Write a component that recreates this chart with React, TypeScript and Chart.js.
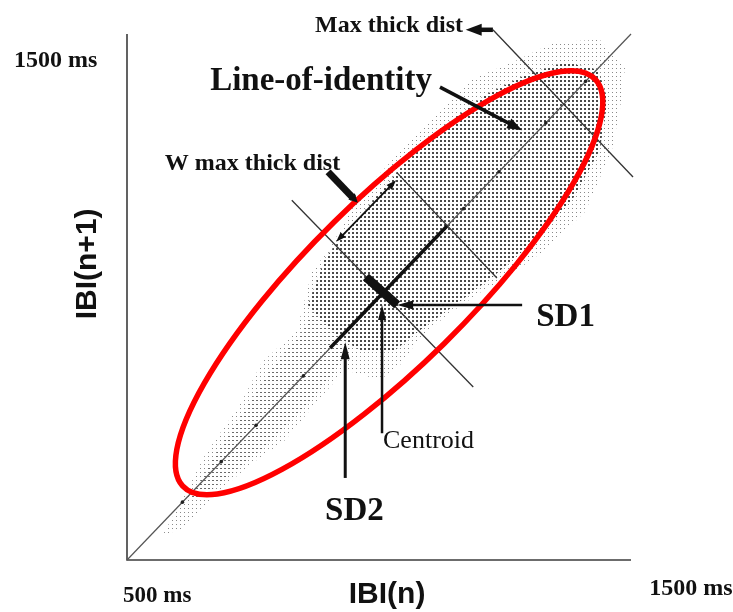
import { useEffect, useRef } from 'react';
import { Chart, registerables } from 'chart.js';

Chart.register(...registerables);

// Axis range, IBI in ms
const AXIS_MIN = 500;
const AXIS_MAX = 1500;

// Tick / axis texts
const yTopTick = '1500 ms';
const xLeftTick = '500 ms';
const xRightTick = '1500 ms';
const xTitle = 'IBI(n)';
const yTitle = 'IBI(n+1)';

// Outline of the whole scatter cloud (IBI(n), IBI(n+1)) in ms
const cloudOuter: [number, number][] = [
  [571, 548], [615, 624], [655, 700], [724, 795], [768, 876], [837, 937],
  [867, 1048], [903, 1093], [962, 1194], [1042, 1276], [1115, 1346],
  [1181, 1413], [1266, 1447], [1349, 1485], [1438, 1489], [1488, 1435],
  [1478, 1356], [1462, 1279], [1409, 1162], [1329, 1089], [1266, 1046],
  [1200, 1008], [1135, 966], [1081, 922], [1042, 871], [1002, 842],
  [933, 861], [883, 808], [814, 728], [744, 681], [675, 624], [605, 557],
];

// Medium-density band below the centroid
const cloudMid: [number, number][] = [
  [625, 614], [675, 700], [734, 785], [784, 861], [843, 928], [883, 994],
  [933, 956], [942, 903], [903, 846], [843, 781], [784, 724], [724, 677],
  [655, 624],
];

// Dense core of the cloud
const cloudCore: [number, number][] = [
  [859, 985], [893, 1074], [972, 1165], [1052, 1255], [1131, 1327],
  [1210, 1384], [1290, 1422], [1369, 1447], [1435, 1432], [1454, 1375],
  [1438, 1279], [1383, 1184], [1310, 1108], [1230, 1042], [1151, 985],
  [1081, 937], [1032, 899], [962, 899], [913, 928],
];

// Beats lying exactly on the line of identity
const identityBeats = [610, 687, 756, 850, 1168, 1238, 1331, 1410];

// Line of identity and the perpendicular guides (ms)
const identityLine: [number, number][] = [[500, 500], [1500, 1500]];
const perpCentroid: [number, number][] = [[827, 1184], [1187, 829]];
const perpWidth: [number, number][] = [[1036, 1236], [1234, 1036]];
const perpMaxThick: [number, number][] = [[1226, 1508], [1504, 1228]];

// SD2 (along identity) and SD1 (across identity) segments
const sd2Segment: [number, number][] = [[903, 903], [1135, 1135]];
const sd1Segment: [number, number][] = [[974, 1038], [1036, 985]];

// Fitted ellipse: centre (ms), semi-axes (ms), rotation (deg)
const ellipseCenter: [number, number] = [1020, 1027];
const ellipseSemiAxes: [number, number] = [563, 159];
const ellipseAngle = 43.3;

// Arrows: [tail, head] in ms
const maxThickArrow: [number, number][] = [[1226, 1508], [1172, 1508]];
const identityArrow: [number, number][] = [[1121, 1399], [1284, 1317]];
const wPointerArrow: [number, number][] = [[899, 1238], [958, 1179]];
const wSpanArrow: [number, number][] = [[915, 1105], [1034, 1222]];
const sd1Arrow: [number, number][] = [[1284, 985], [1036, 985]];
const sd2Arrow: [number, number][] = [[933, 656], [933, 914]];
const centroidArrow: [number, number][] = [[1006, 741], [1006, 985]];

const toXY = (pts: [number, number][]) => pts.map(([x, y]) => ({ x, y }));
const closed = (pts: [number, number][]) => toXY([...pts, pts[0]]);

const SERIF = '"Liberation Serif", "Times New Roman", serif';
const SANS = '"Liberation Sans", Arial, sans-serif';

function drawHead(ctx: CanvasRenderingContext2D, x: number, y: number, ang: number, hl: number, hw: number) {
  const ux = Math.cos(ang);
  const uy = Math.sin(ang);
  const bx = x - ux * hl;
  const by = y - uy * hl;
  ctx.beginPath();
  ctx.moveTo(x, y);
  ctx.lineTo(bx - uy * hw / 2, by + ux * hw / 2);
  ctx.lineTo(bx + uy * hw / 2, by - ux * hw / 2);
  ctx.closePath();
  ctx.fill();
}

function drawArrow(
  ctx: CanvasRenderingContext2D,
  x1: number, y1: number, x2: number, y2: number,
  lw: number, hl: number, hw: number, both = false,
) {
  const ang = Math.atan2(y2 - y1, x2 - x1);
  const ux = Math.cos(ang);
  const uy = Math.sin(ang);
  const sx = both ? x1 + ux * hl * 0.7 : x1;
  const sy = both ? y1 + uy * hl * 0.7 : y1;
  ctx.lineWidth = lw;
  ctx.lineCap = 'butt';
  ctx.beginPath();
  ctx.moveTo(sx, sy);
  ctx.lineTo(x2 - ux * hl * 0.7, y2 - uy * hl * 0.7);
  ctx.stroke();
  drawHead(ctx, x2, y2, ang, hl, hw);
  if (both) drawHead(ctx, x1, y1, ang + Math.PI, hl, hw);
}

const overlayPlugin = {
  id: 'poincareOverlay',
  beforeDatasetsDraw(chart: any) {
    const { ctx, scales } = chart;
    const px = (v: number) => scales.x.getPixelForValue(v);
    const py = (v: number) => scales.y.getPixelForValue(v);
    ctx.save();
    ctx.strokeStyle = '#3c3c3c';
    ctx.lineWidth = 1.6;
    ctx.beginPath();
    ctx.moveTo(px(AXIS_MIN), py(AXIS_MAX));
    ctx.lineTo(px(AXIS_MIN), py(AXIS_MIN));
    ctx.lineTo(px(AXIS_MAX), py(AXIS_MIN));
    ctx.stroke();
    ctx.restore();
  },
  afterDatasetsDraw(chart: any) {
    const { ctx, scales } = chart;
    const px = (v: number) => scales.x.getPixelForValue(v);
    const py = (v: number) => scales.y.getPixelForValue(v);
    const sx = (px(AXIS_MAX) - px(AXIS_MIN)) / (AXIS_MAX - AXIS_MIN);
    const sy = (py(AXIS_MIN) - py(AXIS_MAX)) / (AXIS_MAX - AXIS_MIN);

    ctx.save();
    // ellipse, built in data space so it follows both scales
    ctx.save();
    ctx.translate(px(ellipseCenter[0]), py(ellipseCenter[1]));
    ctx.scale(sx, -sy);
    ctx.rotate((ellipseAngle * Math.PI) / 180);
    ctx.beginPath();
    ctx.ellipse(0, 0, ellipseSemiAxes[0], ellipseSemiAxes[1], 0, 0, Math.PI * 2);
    ctx.restore();
    ctx.strokeStyle = '#ff0000';
    ctx.lineWidth = 5.5;
    ctx.stroke();

    // arrows
    ctx.fillStyle = '#111';
    ctx.strokeStyle = '#111';
    const arr = (a: [number, number][], lw: number, hl: number, hw: number, both = false) =>
      drawArrow(ctx, px(a[0][0]), py(a[0][1]), px(a[1][0]), py(a[1][1]), lw, hl, hw, both);
    arr(maxThickArrow, 4.5, 16, 12);
    arr(identityArrow, 3.5, 15, 11);
    arr(wPointerArrow, 7, 9, 9);
    arr(wSpanArrow, 1.8, 10, 7, true);
    arr(sd1Arrow, 2.5, 16, 9);
    arr(sd2Arrow, 3, 17, 9);
    arr(centroidArrow, 2.5, 15, 8);

    // texts
    ctx.fillStyle = '#111';
    ctx.textAlign = 'left';
    ctx.textBaseline = 'alphabetic';
    ctx.font = `bold 24px ${SERIF}`;
    ctx.fillText(yTopTick, px(276), py(1437));
    ctx.fillText(xRightTick, px(1536), py(434));
    ctx.fillText('Max thick dist', px(873), py(1504));
    ctx.fillText('W max thick dist', px(575), py(1241));
    ctx.font = `bold 23px ${SERIF}`;
    ctx.fillText(xLeftTick, px(492), py(420));
    ctx.font = `bold 33px ${SERIF}`;
    ctx.fillText('Line-of-identity', px(665), py(1394));
    ctx.fillText('SD1', px(1312), py(945));
    ctx.fillText('SD2', px(893), py(576));
    ctx.font = `26px ${SERIF}`;
    ctx.fillText('Centroid', px(1008), py(713));

    ctx.font = `bold 30px ${SANS}`;
    ctx.textAlign = 'center';
    ctx.fillText(xTitle, px(1016), py(418));
    ctx.save();
    ctx.translate(px(439), py(1063));
    ctx.rotate(-Math.PI / 2);
    ctx.fillText(yTitle, 0, 0);
    ctx.restore();
    ctx.restore();
  },
};

function makeDots(ctx: CanvasRenderingContext2D, tile: number, dw: number, dh: number, color: string) {
  const c = document.createElement('canvas');
  c.width = tile;
  c.height = tile;
  const g = c.getContext('2d')!;
  g.fillStyle = color;
  g.fillRect(0, 0, dw, dh);
  return ctx.createPattern(c, 'repeat')!;
}

export default function App() {
  const ref = useRef<HTMLCanvasElement | null>(null);

  useEffect(() => {
    const canvas = ref.current!;
    const ctx = canvas.getContext('2d')!;
    const sparse = makeDots(ctx, 4, 1, 1, '#8a8a8a');
    const medium = makeDots(ctx, 4, 2, 1, '#6a6a6a');
    const dense = makeDots(ctx, 4, 2, 2, '#4a4a4a');

    const lineDs = (pts: [number, number][], color: string, width: number, order: number) => ({
      data: toXY(pts),
      borderColor: color,
      borderWidth: width,
      pointRadius: 0,
      fill: false,
      tension: 0,
      clip: false as const,
      order,
    });

    const cloudDs = (pts: [number, number][], pattern: CanvasPattern, order: number) => ({
      data: closed(pts),
      borderColor: 'transparent',
      borderWidth: 0,
      backgroundColor: pattern,
      fill: 'shape' as const,
      pointRadius: 0,
      tension: 0,
      order,
    });

    const chart = new Chart(canvas, {
      type: 'line',
      data: {
        datasets: [
          cloudDs(cloudOuter, sparse, 30),
          cloudDs(cloudMid, medium, 29),
          cloudDs(cloudCore, dense, 28),
          lineDs(identityLine, '#555', 1.2, 10),
          {
            data: identityBeats.map((v) => ({ x: v, y: v })),
            showLine: false,
            pointRadius: 1.8,
            pointBorderWidth: 0,
            pointBackgroundColor: '#222',
            order: 9,
          },
          lineDs(perpCentroid, '#333', 1.3, 8),
          lineDs(perpWidth, '#333', 1.3, 8),
          lineDs(perpMaxThick, '#333', 1.3, 8),
          lineDs(sd2Segment, '#111', 3.5, 2),
          lineDs(sd1Segment, '#111', 9, 1),
        ] as any,
      },
      options: {
        responsive: false,
        animation: false,
        events: [],
        layout: { padding: { left: 127, right: 102, top: 34, bottom: 52 } },
        scales: {
          x: { type: 'linear', min: AXIS_MIN, max: AXIS_MAX, display: false },
          y: { type: 'linear', min: AXIS_MIN, max: AXIS_MAX, display: false },
        },
        plugins: { legend: { display: false }, tooltip: { enabled: false } },
      },
      plugins: [overlayPlugin],
    });
    return () => chart.destroy();
  }, []);

  return (
    <div style={{ position: 'absolute', left: 0, top: 0, width: 733, height: 612, background: '#fff' }}>
      <canvas ref={ref} width={733} height={612} style={{ display: 'block' }} />
    </div>
  );
}
